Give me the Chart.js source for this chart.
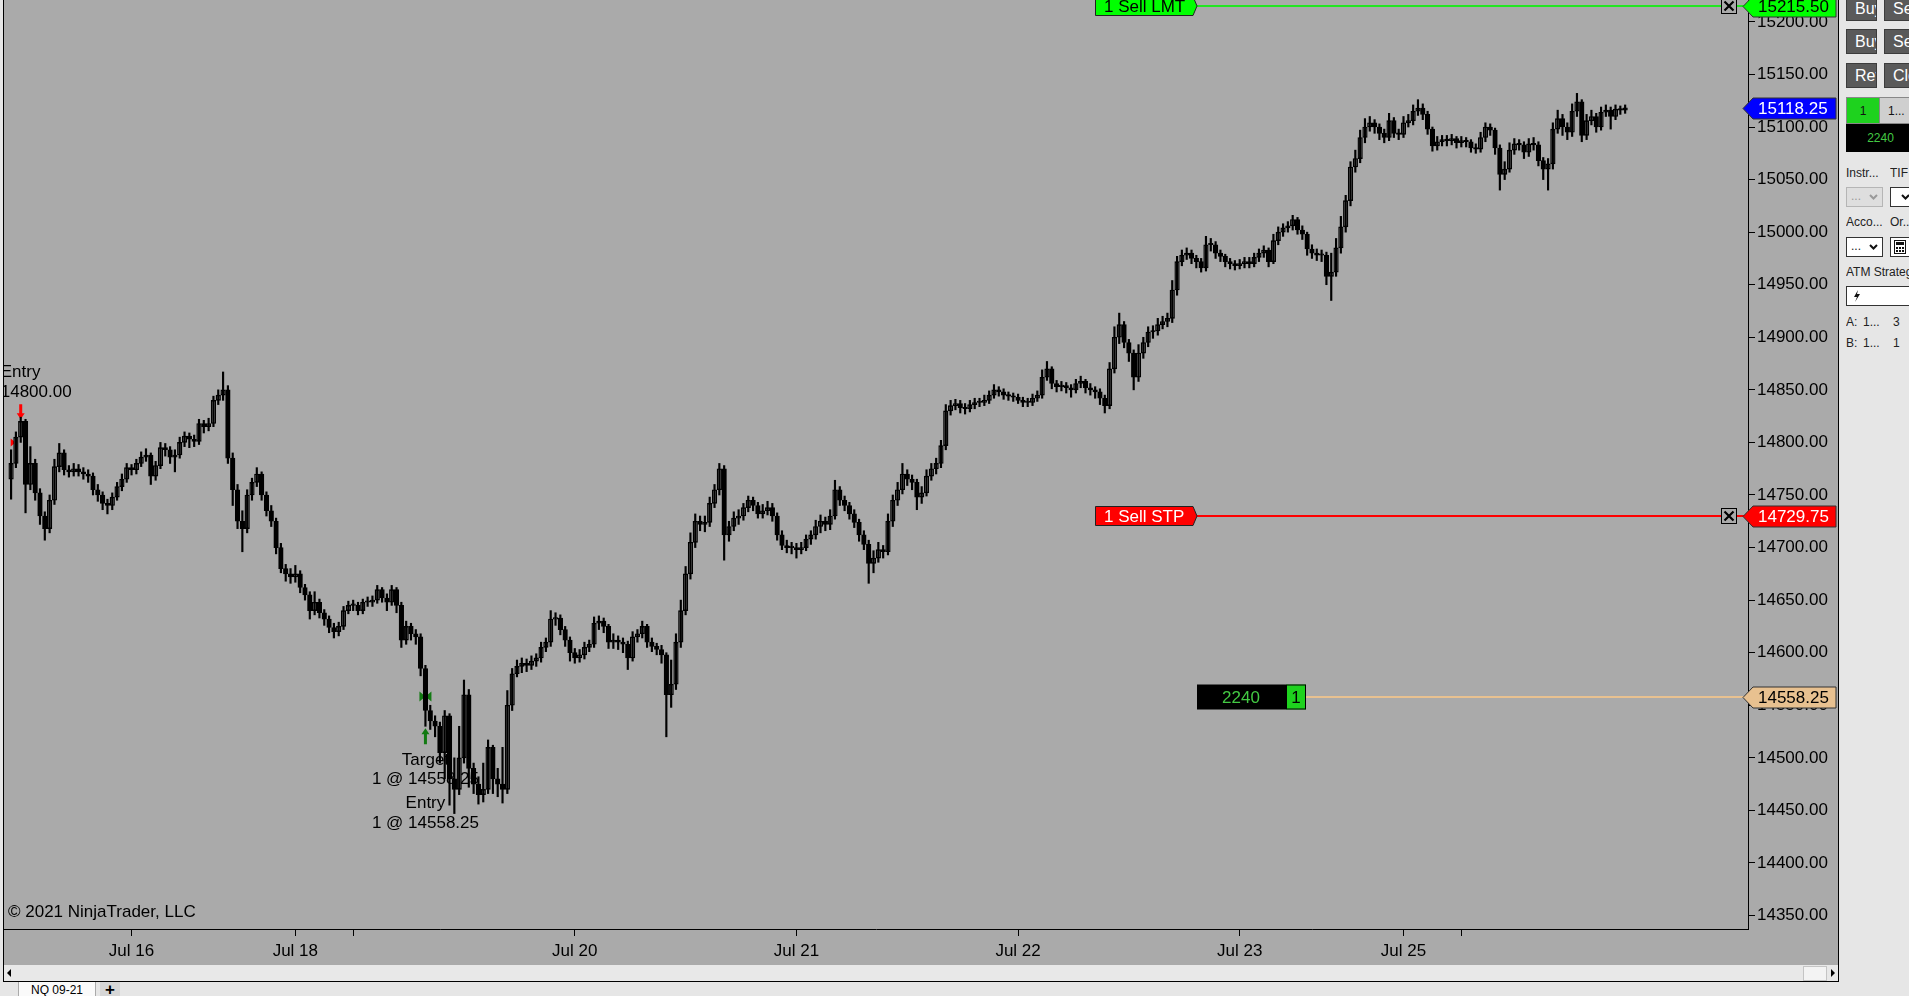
<!DOCTYPE html>
<html lang="en">
<head>
<meta charset="utf-8">
<title>NQ 09-21</title>
<script src="https://cdn.jsdelivr.net/npm/chart.js@4.4.1/dist/chart.umd.min.js"></script>
<style>
  html, body { margin: 0; padding: 0; }
  body { width: 1909px; height: 996px; overflow: hidden; background: #e6e6e6; position: relative;
         font-family: "Liberation Sans", Arial, sans-serif; }
  #chartBox { position: absolute; left: 3px; top: 0; width: 1834px; height: 981px;
              border-left: 1px solid #000; border-right: 1px solid #000; border-bottom: 1px solid #000;
              background: #aaaaaa; }
  #priceChart { position: absolute; left: 0; top: 0; }
  #scrollBar { position: absolute; left: 0; top: 965px; width: 1834px; height: 16px; background: #e8e8e8; }
  #scrollBar .arrowL { position: absolute; left: 3px; top: 4px; width: 0; height: 0;
                       border-top: 4px solid transparent; border-bottom: 4px solid transparent; border-right: 4px solid #000; }
  #scrollBar .thumb { position: absolute; left: 1799px; top: 1px; width: 22px; height: 13px; background: #f3f3f3; border: 1px solid #c4c4c4; }
  #scrollBar .arrowR { position: absolute; left: 1827px; top: 4px; width: 0; height: 0;
                       border-top: 4px solid transparent; border-bottom: 4px solid transparent; border-left: 4px solid #000; }
  #tabs { position: absolute; left: 0; top: 982px; width: 1909px; height: 14px; background: #e6e6e6; overflow: hidden; }
  #tabs .tab { position: absolute; left: 18px; top: 0; width: 76px; height: 16px; background: #fafafa;
               border-left: 1px solid #aaa; border-right: 1px solid #aaa; font-size: 12px; line-height: 17px; text-align: center; }
  #tabs .plus { position: absolute; left: 100px; top: 0; width: 20px; height: 16px; background: #d6d6d6;
                font-size: 17px; line-height: 15px; text-align: center; font-weight: bold; }
  #side { position: absolute; left: 1839px; top: 0; width: 70px; height: 982px; background: #e6e6e6;
          overflow: hidden; font-size: 12px; color: #222; }
  #side div { position: absolute; white-space: nowrap; overflow: hidden; box-sizing: border-box; }
  #side .btn { width: 31px; height: 25px; background: #5a5a5a; border: 1px solid #3c3c3c; color: #fff;
               font-size: 16px; line-height: 23px; padding-left: 8px; }
  #side .lbl { height: 15px; line-height: 15px; }
  #side .dd { height: 20px; background: #fff; border: 1px solid #333; line-height: 17px; padding-left: 4px; }
  #side .dd svg { position: absolute; top: 6px; right: 4px; }
</style>
</head>
<body>
<div id="chartBox">
  <canvas id="priceChart" width="1834" height="965"></canvas>
  <div id="scrollBar"><div class="arrowL"></div><div class="thumb"></div><div class="arrowR"></div></div>
</div>

<div id="side">
  <div class="btn" style="left:7px;top:-4px">Buy Mkt</div>
  <div class="btn" style="left:45px;top:-4px">Sell Mkt</div>
  <div class="btn" style="left:7px;top:29px">Buy Ask</div>
  <div class="btn" style="left:45px;top:29px">Sell Bid</div>
  <div class="btn" style="left:7px;top:63px">Rev</div>
  <div class="btn" style="left:45px;top:63px">Close</div>

  <div style="left:7px;top:97px;width:34px;height:27px;background:#1ed21e;border:1px solid #888;text-align:center;line-height:26px;color:#111">1</div>
  <div style="left:40px;top:97px;width:36px;height:27px;background:#cfcfcf;border:1px solid #888;line-height:26px;padding-left:8px;color:#111">1...</div>
  <div style="left:7px;top:124px;width:69px;height:28px;background:#000;text-align:center;line-height:28px;color:#43c943">2240</div>

  <div class="lbl" style="left:7px;top:166px">Instr...</div>
  <div class="lbl" style="left:51px;top:166px">TIF</div>
  <div class="dd" style="left:7px;top:187px;width:37px;background:#dedede;border-color:#b5b5b5;color:#999">...
    <svg width="9" height="6" viewBox="0 0 9 6"><polyline points="1,1 4.5,4.5 8,1" fill="none" stroke="#999" stroke-width="2"/></svg></div>
  <div class="dd" style="left:51px;top:187px;width:30px">
    <svg width="9" height="6" viewBox="0 0 9 6" style="right:auto;left:10px"><polyline points="1,1 4.5,4.5 8,1" fill="none" stroke="#111" stroke-width="2"/></svg></div>

  <div class="lbl" style="left:7px;top:215px">Acco...</div>
  <div class="lbl" style="left:51px;top:215px">Or...</div>
  <div class="dd" style="left:7px;top:237px;width:37px">...
    <svg width="9" height="6" viewBox="0 0 9 6"><polyline points="1,1 4.5,4.5 8,1" fill="none" stroke="#111" stroke-width="2"/></svg></div>
  <div class="dd" style="left:51px;top:237px;width:22px;padding-left:3px">
    <svg width="12" height="14" viewBox="0 0 12 14" style="top:2px;right:auto;left:3px">
      <rect x="0.5" y="0.5" width="11" height="13" fill="none" stroke="#111"/>
      <rect x="2" y="2" width="8" height="3" fill="#111"/>
      <rect x="2" y="7" width="2" height="2" fill="#111"/><rect x="5" y="7" width="2" height="2" fill="#111"/><rect x="8" y="7" width="2" height="2" fill="#111"/>
      <rect x="2" y="10" width="2" height="2" fill="#111"/><rect x="5" y="10" width="2" height="2" fill="#111"/><rect x="8" y="10" width="2" height="2" fill="#111"/>
    </svg></div>

  <div class="lbl" style="left:7px;top:265px">ATM Strategy</div>
  <div class="dd" style="left:7px;top:286px;width:70px">
    <svg width="8" height="12" viewBox="0 0 8 12" style="top:3px;right:auto;left:6px"><path d="M5 0 L1 7 H4 L2 12 L7 4 H4 Z" fill="#111"/></svg></div>

  <div class="lbl" style="left:7px;top:315px">A:</div>
  <div class="lbl" style="left:24px;top:315px">1...</div>
  <div class="lbl" style="left:54px;top:315px">3</div>
  <div class="lbl" style="left:7px;top:336px">B:</div>
  <div class="lbl" style="left:24px;top:336px">1...</div>
  <div class="lbl" style="left:54px;top:336px">1</div>
</div>

<div id="tabs"><div class="tab">NQ 09-21</div><div class="plus">+</div></div>

<script>
// 30-minute bars, NQ 09-21, Jul 15 11:30 .. Jul 26 16:30 (trading hours only)
const opens = [
  14765, 14780, 14805, 14820, 14760, 14780, 14752, 14730, 14718, 14745,
  14777, 14790, 14774, 14772, 14775, 14772, 14770, 14768, 14755, 14750,
  14742, 14740, 14748, 14758, 14765, 14776, 14774, 14780, 14786, 14788,
  14768, 14778, 14795, 14793, 14786, 14788, 14800, 14806, 14803, 14801,
  14818, 14815, 14818, 14840, 14845, 14850, 14785, 14755, 14725, 14718,
  14750, 14762, 14770, 14750, 14735, 14725, 14700, 14680, 14675, 14672,
  14675, 14662, 14655, 14640, 14648, 14638, 14632, 14624, 14620, 14625,
  14640, 14645, 14645, 14640, 14648, 14648, 14650, 14660, 14652, 14648,
  14660, 14645, 14612, 14625, 14618, 14615, 14585, 14545, 14535, 14530,
  14505, 14540, 14480, 14470, 14500, 14560, 14490, 14475, 14465, 14470,
  14510, 14480, 14475, 14470, 14550, 14580, 14587, 14590, 14588, 14592,
  14595, 14605, 14610, 14632, 14633, 14622, 14612, 14600, 14595, 14598,
  14605, 14608, 14628, 14630, 14625, 14610, 14612, 14610, 14608, 14595,
  14615, 14618, 14625, 14610, 14606, 14603, 14598, 14560, 14570, 14610,
  14640, 14675, 14705, 14725, 14722, 14724, 14742, 14755, 14775, 14712,
  14720, 14728, 14730, 14738, 14745, 14740, 14732, 14735, 14738, 14730,
  14712, 14702, 14700, 14700, 14698, 14700, 14708, 14712, 14720, 14725,
  14722, 14730, 14755, 14745, 14740, 14732, 14724, 14712, 14703, 14685,
  14690, 14698, 14696, 14725, 14745, 14755, 14770, 14765, 14762, 14748,
  14752, 14768, 14775, 14780, 14797, 14830, 14835, 14837, 14833, 14832,
  14836, 14838, 14838, 14840, 14845, 14850, 14848, 14845, 14844, 14843,
  14840, 14838, 14838, 14842, 14845, 14862, 14870, 14856, 14853, 14854,
  14852, 14850, 14856, 14858, 14852, 14850, 14848, 14842, 14835, 14870,
  14900, 14912, 14895, 14885, 14862, 14885, 14895, 14905, 14906, 14912,
  14915, 14918, 14945, 14972, 14978, 14980, 14975, 14972, 14966, 14988,
  14988, 14980, 14977, 14972, 14970, 14968, 14970, 14972, 14970, 14976,
  14980, 14983, 14972, 14992, 15000, 15004, 15006, 15012, 15002, 14998,
  14984, 14980, 14978, 14978, 14958, 14962, 14985, 15005, 15030, 15062,
  15070, 15090, 15100, 15104, 15100, 15094, 15090, 15106, 15094, 15093,
  15104, 15106, 15115, 15118, 15112, 15098, 15082, 15086, 15088, 15087,
  15089, 15085, 15087, 15086, 15080, 15079, 15090, 15100, 15097, 15080,
  15055, 15060, 15078, 15084, 15083, 15076, 15084, 15083, 15068, 15060,
  15065, 15098, 15108, 15100, 15095, 15115, 15124, 15092, 15106, 15110,
  15100, 15114, 15116, 15110, 15117, 15116
];
const highs = [
  14793, 14810, 14824, 14822, 14796, 14784, 14756, 14734, 14750, 14784,
  14799, 14793, 14778, 14780, 14779, 14776, 14774, 14771, 14760, 14753,
  14746, 14752, 14762, 14770, 14780, 14779, 14784, 14791, 14794, 14790,
  14782, 14800, 14799, 14796, 14793, 14805, 14810, 14809, 14807, 14822,
  14821, 14823, 14844, 14850, 14867, 14854, 14790, 14760, 14735, 14755,
  14766, 14776, 14772, 14753, 14740, 14728, 14704, 14684, 14680, 14683,
  14678, 14665, 14658, 14658, 14651, 14641, 14635, 14628, 14629, 14644,
  14649, 14650, 14648, 14651, 14653, 14654, 14664, 14662, 14656, 14664,
  14662, 14648, 14630, 14628, 14622, 14618, 14588, 14550, 14540, 14534,
  14545, 14542, 14500, 14530, 14574, 14565, 14495, 14482, 14495, 14517,
  14512, 14490, 14510, 14564, 14585, 14593, 14595, 14594, 14597, 14599,
  14610, 14614, 14640, 14638, 14636, 14625, 14615, 14604, 14603, 14610,
  14612, 14634, 14635, 14633, 14627, 14618, 14616, 14614, 14611, 14620,
  14622, 14630, 14627, 14614, 14609, 14607, 14600, 14593, 14618, 14650,
  14682, 14714, 14732, 14730, 14730, 14748, 14760, 14780, 14778, 14725,
  14734, 14736, 14742, 14749, 14748, 14743, 14741, 14744, 14742, 14733,
  14716, 14707, 14705, 14704, 14705, 14712, 14716, 14726, 14731, 14729,
  14736, 14764, 14758, 14749, 14743, 14736, 14727, 14716, 14707, 14697,
  14705, 14702, 14732, 14750, 14762, 14780, 14774, 14769, 14765, 14758,
  14774, 14780, 14785, 14802, 14836, 14840, 14841, 14840, 14837, 14840,
  14842, 14842, 14845, 14849, 14855, 14853, 14851, 14848, 14847, 14846,
  14843, 14842, 14846, 14849, 14869, 14877, 14872, 14859, 14858, 14857,
  14855, 14860, 14863, 14860, 14856, 14853, 14851, 14845, 14876, 14910,
  14923, 14915, 14898, 14888, 14893, 14900, 14910, 14911, 14918, 14920,
  14923, 14954, 14977, 14983, 14985, 14983, 14978, 14975, 14996, 14994,
  14991, 14983, 14979, 14975, 14973, 14974, 14976, 14976, 14980, 14984,
  14987, 14985, 14998, 15005, 15008, 15010, 15016, 15014, 15006, 15000,
  14988, 14984, 14983, 14981, 14980, 14994, 15015, 15035, 15067, 15078,
  15097, 15108, 15110, 15107, 15103, 15098, 15113, 15109, 15098, 15110,
  15112, 15121, 15126, 15122, 15115, 15100, 15091, 15092, 15092, 15093,
  15091, 15091, 15090, 15088, 15084, 15095, 15104, 15103, 15099, 15083,
  15067, 15085, 15089, 15088, 15086, 15089, 15090, 15086, 15071, 15070,
  15104, 15116, 15112, 15104, 15122, 15132, 15126, 15112, 15116, 15113,
  15119, 15121, 15119, 15121, 15120, 15121
];
const lows = [
  14746, 14776, 14800, 14733, 14755, 14745, 14722, 14707, 14714, 14741,
  14772, 14769, 14767, 14768, 14768, 14765, 14762, 14750, 14744, 14736,
  14732, 14736, 14745, 14754, 14762, 14769, 14770, 14777, 14782, 14760,
  14764, 14775, 14787, 14780, 14772, 14785, 14796, 14795, 14796, 14798,
  14809, 14811, 14815, 14836, 14840, 14780, 14740, 14718, 14696, 14714,
  14745, 14758, 14745, 14730, 14720, 14694, 14676, 14668, 14666, 14667,
  14657, 14650, 14632, 14636, 14633, 14626, 14619, 14614, 14616, 14622,
  14637, 14640, 14636, 14637, 14644, 14644, 14647, 14648, 14640, 14645,
  14638, 14605, 14608, 14612, 14608, 14578, 14530, 14527, 14520, 14495,
  14480, 14455, 14447, 14465, 14495, 14472, 14466, 14456, 14458, 14466,
  14466, 14463, 14457, 14466, 14545, 14577, 14581, 14582, 14584, 14587,
  14591, 14601, 14606, 14626, 14617, 14606, 14592, 14590, 14591, 14594,
  14601, 14605, 14622, 14619, 14604, 14604, 14603, 14600, 14584, 14592,
  14610, 14614, 14605, 14601, 14598, 14590, 14520, 14548, 14565, 14605,
  14636, 14670, 14700, 14716, 14715, 14720, 14738, 14750, 14688, 14706,
  14716, 14722, 14726, 14734, 14735, 14728, 14728, 14731, 14725, 14707,
  14698, 14695, 14694, 14690, 14694, 14697, 14703, 14708, 14714, 14716,
  14717, 14727, 14740, 14735, 14727, 14719, 14706, 14698, 14666, 14676,
  14686, 14690, 14693, 14720, 14740, 14751, 14759, 14755, 14736, 14742,
  14749, 14764, 14770, 14776, 14793, 14826, 14831, 14828, 14827, 14829,
  14832, 14834, 14835, 14837, 14842, 14844, 14841, 14840, 14839, 14837,
  14834, 14834, 14835, 14839, 14842, 14859, 14851, 14848, 14849, 14847,
  14843, 14847, 14852, 14847, 14845, 14842, 14836, 14828, 14832, 14866,
  14894, 14890, 14877, 14850, 14858, 14880, 14891, 14899, 14902, 14908,
  14910, 14914, 14940, 14968, 14974, 14970, 14966, 14962, 14963, 14982,
  14975, 14972, 14967, 14965, 14964, 14965, 14966, 14966, 14967, 14972,
  14976, 14967, 14970, 14988, 14996, 15000, 15002, 14998, 14993, 14978,
  14975, 14973, 14972, 14950, 14935, 14958, 14980, 15000, 15025, 15057,
  15066, 15085, 15096, 15094, 15088, 15085, 15087, 15090, 15088, 15090,
  15100, 15102, 15111, 15107, 15093, 15077, 15078, 15082, 15082, 15083,
  15080, 15081, 15081, 15076, 15075, 15076, 15086, 15092, 15074, 15040,
  15050, 15057, 15074, 15078, 15070, 15072, 15078, 15063, 15050, 15040,
  15060, 15094, 15092, 15088, 15091, 15110, 15086, 15088, 15102, 15095,
  15097, 15110, 15098, 15107, 15112, 15113
];
const closes = [
  14780, 14805, 14820, 14760, 14780, 14752, 14730, 14718, 14745, 14777,
  14790, 14774, 14772, 14775, 14772, 14770, 14768, 14755, 14750, 14742,
  14740, 14748, 14758, 14765, 14776, 14774, 14780, 14786, 14788, 14768,
  14778, 14795, 14793, 14786, 14788, 14800, 14806, 14803, 14801, 14818,
  14815, 14818, 14840, 14845, 14850, 14785, 14755, 14725, 14718, 14750,
  14762, 14770, 14750, 14735, 14725, 14700, 14680, 14675, 14672, 14675,
  14662, 14655, 14640, 14648, 14638, 14632, 14624, 14620, 14625, 14640,
  14645, 14645, 14640, 14648, 14648, 14650, 14660, 14652, 14648, 14660,
  14645, 14612, 14625, 14618, 14615, 14585, 14545, 14535, 14530, 14505,
  14540, 14480, 14470, 14500, 14560, 14490, 14475, 14465, 14470, 14510,
  14480, 14475, 14470, 14550, 14580, 14587, 14590, 14588, 14592, 14595,
  14605, 14610, 14632, 14633, 14622, 14612, 14600, 14595, 14598, 14605,
  14608, 14628, 14630, 14625, 14610, 14612, 14610, 14608, 14595, 14615,
  14618, 14625, 14610, 14606, 14603, 14598, 14560, 14570, 14610, 14640,
  14675, 14705, 14725, 14722, 14724, 14742, 14755, 14775, 14712, 14720,
  14728, 14730, 14738, 14745, 14740, 14732, 14735, 14738, 14730, 14712,
  14702, 14700, 14700, 14698, 14700, 14708, 14712, 14720, 14725, 14722,
  14730, 14755, 14745, 14740, 14732, 14724, 14712, 14703, 14685, 14690,
  14698, 14696, 14725, 14745, 14755, 14770, 14765, 14762, 14748, 14752,
  14768, 14775, 14780, 14797, 14830, 14835, 14837, 14833, 14832, 14836,
  14838, 14838, 14840, 14845, 14850, 14848, 14845, 14844, 14843, 14840,
  14838, 14838, 14842, 14845, 14862, 14870, 14856, 14853, 14854, 14852,
  14850, 14856, 14858, 14852, 14850, 14848, 14842, 14835, 14870, 14900,
  14912, 14895, 14885, 14862, 14885, 14895, 14905, 14906, 14912, 14915,
  14918, 14945, 14972, 14978, 14980, 14975, 14972, 14966, 14988, 14988,
  14980, 14977, 14972, 14970, 14968, 14970, 14972, 14970, 14976, 14980,
  14983, 14972, 14992, 15000, 15004, 15006, 15012, 15002, 14998, 14984,
  14980, 14978, 14978, 14958, 14962, 14985, 15005, 15030, 15062, 15070,
  15090, 15100, 15104, 15100, 15094, 15090, 15106, 15094, 15093, 15104,
  15106, 15115, 15118, 15112, 15098, 15082, 15086, 15088, 15087, 15089,
  15085, 15087, 15086, 15080, 15079, 15090, 15100, 15097, 15080, 15055,
  15060, 15078, 15084, 15083, 15076, 15084, 15083, 15068, 15060, 15065,
  15098, 15108, 15100, 15095, 15115, 15124, 15092, 15106, 15110, 15100,
  15114, 15116, 15110, 15117, 15116, 15118.25
];

// first bar of each date
const dateTickBars = [25, 59, 71, 117, 163, 209, 255, 289, 301];
const dateTickLabels = ['Jul 16', 'Jul 18', '', 'Jul 20', 'Jul 21', 'Jul 22', 'Jul 23', 'Jul 25', ''];
const priceTicks = [14350, 14400, 14450, 14500, 14550, 14600, 14650, 14700, 14750,
                    14800, 14850, 14900, 14950, 15000, 15050, 15100, 15150, 15200];

// working orders, position, executions
const orderLabels = ['1 Sell LMT', '1 Sell STP'];
const orderPrices = [15215.50, 14729.75];
const positionPrice = 14558.25;
const positionQty = 1;
const positionPnl = 2240;
const shortEntryBar = 2;
const shortEntryPrice = 14800.00;
const longEntryBar = 86;
const longEntryPrice = 14558.25;
const lastPrice = closes[closes.length - 1];

const FONT_FAMILY = '"Liberation Sans", Arial, sans-serif';
const FONT = '17px ' + FONT_FAMILY;
const BG = '#aaaaaa';

function tagPath(ctx, tipX, bodyX, rightX, yc, h) {
  ctx.beginPath();
  ctx.moveTo(tipX, yc);
  ctx.lineTo(bodyX, yc - h / 2);
  ctx.lineTo(rightX, yc - h / 2);
  ctx.lineTo(rightX, yc + h / 2);
  ctx.lineTo(bodyX, yc + h / 2);
  ctx.closePath();
}

const ninjaOverlay = {
  id: 'ninjaOverlay',
  beforeDatasetsDraw(chart) {
    const { ctx, scales: { x, y } } = chart;
    ctx.save();
    ctx.font = FONT;
    ctx.textBaseline = 'middle';
    ctx.fillStyle = '#000';
    ctx.textAlign = 'left';
    ctx.fillText('\u00a9 2021 NinjaTrader, LLC', 4, 912);

    // short entry
    const sx = x.getPixelForValue(shortEntryBar);
    const sTip = y.getPixelForValue(highs[shortEntryBar]) + 2;
    ctx.fillText('Entry', sx - 20, sTip - 47);
    ctx.fillText(shortEntryPrice.toFixed(2), sx - 20, sTip - 27);
    ctx.fillStyle = '#ff0000';
    ctx.beginPath();
    ctx.moveTo(sx, sTip); ctx.lineTo(sx - 4, sTip - 6); ctx.lineTo(sx - 1.5, sTip - 6);
    ctx.lineTo(sx - 1.5, sTip - 15); ctx.lineTo(sx + 1.5, sTip - 15); ctx.lineTo(sx + 1.5, sTip - 6);
    ctx.lineTo(sx + 4, sTip - 6); ctx.closePath(); ctx.fill();
    const se = y.getPixelForValue(shortEntryPrice);
    ctx.beginPath();
    ctx.moveTo(sx - 10, se - 4); ctx.lineTo(sx - 5, se); ctx.lineTo(sx - 10, se + 4); ctx.closePath(); ctx.fill();

    // target fill + long entry
    const lx = x.getPixelForValue(longEntryBar);
    const ly = y.getPixelForValue(longEntryPrice);
    ctx.fillStyle = '#127a12';
    ctx.beginPath();
    ctx.moveTo(lx - 6, ly - 5); ctx.lineTo(lx, ly); ctx.lineTo(lx - 6, ly + 5); ctx.closePath();
    ctx.moveTo(lx + 6, ly - 5); ctx.lineTo(lx, ly); ctx.lineTo(lx + 6, ly + 5); ctx.closePath();
    ctx.fill();
    const lTip = y.getPixelForValue(lows[longEntryBar]) + 2;
    ctx.beginPath();
    ctx.moveTo(lx, lTip); ctx.lineTo(lx + 4, lTip + 6); ctx.lineTo(lx + 1.5, lTip + 6);
    ctx.lineTo(lx + 1.5, lTip + 16); ctx.lineTo(lx - 1.5, lTip + 16); ctx.lineTo(lx - 1.5, lTip + 6);
    ctx.lineTo(lx - 4, lTip + 6); ctx.closePath(); ctx.fill();
    ctx.fillStyle = '#000';
    ctx.textAlign = 'center';
    const fillText = positionQty + ' @ ' + longEntryPrice.toFixed(2);
    ctx.fillText('Target', lx, lTip + 32);
    ctx.fillText(fillText, lx, lTip + 51);
    ctx.fillText('Entry', lx, lTip + 75);
    ctx.fillText(fillText, lx, lTip + 95);
    ctx.restore();
  },
  afterDatasetsDraw(chart) {
    const { ctx, chartArea: a, scales: { y } } = chart;
    ctx.save();
    ctx.font = FONT;
    ctx.textBaseline = 'middle';
    const fills = ['#00ff00', '#ff0000'];
    const lines = ['#22e622', '#ff0000'];
    const texts = ['#000', '#fff'];
    orderPrices.forEach((p, k) => {
      const yc = Math.round(y.getPixelForValue(p));
      ctx.strokeStyle = lines[k]; ctx.lineWidth = 2;
      ctx.beginPath(); ctx.moveTo(1193, yc); ctx.lineTo(a.right, yc); ctx.stroke();
      ctx.beginPath();
      ctx.moveTo(1091.5, yc - 9.5); ctx.lineTo(1189, yc - 9.5); ctx.lineTo(1193, yc);
      ctx.lineTo(1189, yc + 9.5); ctx.lineTo(1091.5, yc + 9.5); ctx.closePath();
      ctx.fillStyle = fills[k]; ctx.fill();
      ctx.strokeStyle = '#222'; ctx.lineWidth = 1; ctx.stroke();
      ctx.fillStyle = texts[k]; ctx.textAlign = 'left';
      ctx.fillText(orderLabels[k], 1100, yc + 1);
      // cancel box
      ctx.fillStyle = BG; ctx.fillRect(1717.5, yc - 7.5, 15, 15);
      ctx.strokeStyle = '#000'; ctx.lineWidth = 1; ctx.strokeRect(1717.5, yc - 7.5, 15, 15);
      ctx.lineWidth = 2.2;
      ctx.beginPath();
      ctx.moveTo(1720.5, yc - 4.5); ctx.lineTo(1729.5, yc + 4.5);
      ctx.moveTo(1729.5, yc - 4.5); ctx.lineTo(1720.5, yc + 4.5); ctx.stroke();
    });

    // position line
    const py = Math.round(y.getPixelForValue(positionPrice));
    ctx.strokeStyle = '#e8c190'; ctx.lineWidth = 2;
    ctx.beginPath(); ctx.moveTo(1302, py); ctx.lineTo(a.right, py); ctx.stroke();
    ctx.fillStyle = '#000'; ctx.fillRect(1193, py - 12.5, 89, 25);
    ctx.fillStyle = '#1ed21e'; ctx.fillRect(1282, py - 12.5, 20, 25);
    ctx.strokeStyle = '#000'; ctx.lineWidth = 1; ctx.strokeRect(1282.5, py - 12, 19, 24);
    ctx.textAlign = 'center';
    ctx.fillStyle = '#43c943'; ctx.fillText(String(positionPnl), 1237, py + 1);
    ctx.fillStyle = '#000'; ctx.fillText(String(positionQty), 1292, py + 1);
    ctx.restore();
  },
  afterDraw(chart) {
    const { ctx, chartArea: a, scales: { y } } = chart;
    ctx.save();
    ctx.font = FONT;
    ctx.textBaseline = 'middle';
    ctx.textAlign = 'left';
    const tags = [
      [orderPrices[0], '#00ff00', '#000'],
      [lastPrice, '#0000ff', '#fff'],
      [orderPrices[1], '#ff0000', '#fff'],
      [positionPrice, '#e8c190', '#000']
    ];
    tags.forEach(([p, fill, txt]) => {
      const yc = Math.round(y.getPixelForValue(p)) + 0.5;
      tagPath(ctx, a.right - 5, a.right + 5, a.right + 88, yc, 21);
      ctx.fillStyle = fill; ctx.fill();
      ctx.strokeStyle = '#333'; ctx.lineWidth = 1; ctx.stroke();
      ctx.fillStyle = txt;
      ctx.fillText(p.toFixed(2), a.right + 10, yc + 1);
    });
    ctx.restore();
  }
};

const wickData = highs.map((h, i) => ({ x: i, y: [lows[i], h] }));
const bodyData = opens.map((o, i) => ({ x: i, y: [o, closes[i]] }));

new Chart(document.getElementById('priceChart'), {
  type: 'bar',
  data: {
    datasets: [
      {
        data: wickData,
        backgroundColor: '#000',
        borderWidth: 0,
        barThickness: 1.5,
        grouped: false
      },
      {
        data: bodyData,
        backgroundColor: ctx => (closes[ctx.dataIndex] >= opens[ctx.dataIndex] ? BG : '#000'),
        borderColor: '#000',
        borderWidth: 1.4,
        borderSkipped: false,
        barThickness: 4.6,
        minBarLength: 1.5,
        grouped: false
      }
    ]
  },
  options: {
    responsive: false,
    animation: false,
    devicePixelRatio: 1,
    layout: { padding: 0 },
    plugins: {
      legend: { display: false },
      tooltip: { enabled: false }
    },
    scales: {
      x: {
        type: 'linear',
        min: -1.47,
        max: 360.5,
        offset: false,
        afterFit: s => { s.height = 36; s.paddingLeft = 0; s.paddingRight = 0; },
        afterBuildTicks: s => { s.ticks = dateTickBars.map(v => ({ value: v })); },
        grid: { drawOnChartArea: false, offset: false, color: '#000', tickLength: 7 },
        border: { display: true, color: '#000', width: 1 },
        ticks: {
          autoSkip: false,
          maxRotation: 0,
          padding: 5,
          color: '#000',
          font: { family: FONT_FAMILY, size: 17 },
          callback: (v, i) => dateTickLabels[i]
        }
      },
      y: {
        position: 'right',
        min: 14337.2,
        max: 15220.8,
        afterFit: s => { s.width = 90; s.paddingTop = 0; s.paddingBottom = 0; },
        afterBuildTicks: s => { s.ticks = priceTicks.map(v => ({ value: v })); },
        grid: { drawOnChartArea: false, color: '#000', tickLength: 7 },
        border: { display: true, color: '#000', width: 1 },
        ticks: {
          padding: 2,
          color: '#000',
          font: { family: FONT_FAMILY, size: 17 },
          callback: v => Number(v).toFixed(2)
        }
      }
    }
  },
  plugins: [ninjaOverlay]
});
</script>
</body>
</html>
